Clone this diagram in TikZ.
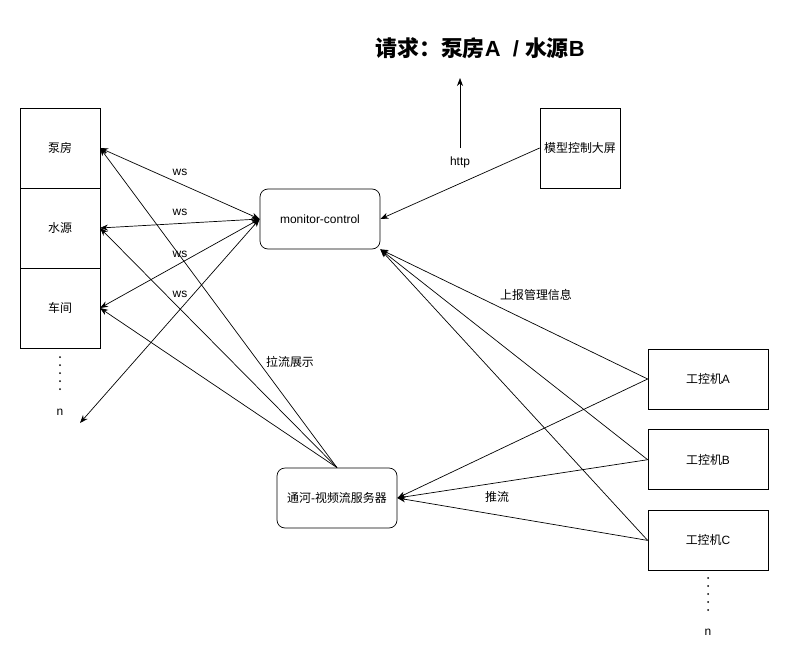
\documentclass[tikz,border=0pt]{standalone}
\usepackage{fontspec}
\setmainfont{Liberation Sans}
\newfontfamily\cjk{Noto Sans CJK SC}
\usetikzlibrary{
        arrows.meta,
        positioning
    }
\tikzset{>={Stealth[length=8pt,width=6pt,inset=2.5pt]},auto}
\tikzset{site box/.style={draw,minimum width=80bp,minimum height=80bp,outer sep=0pt}}
\tikzset{service box/.style={draw,rounded corners=8bp,minimum width=120bp,minimum height=60bp}}
\tikzset{ipc box/.style={draw,minimum width=120bp,minimum height=60bp}}
\tikzset{screen box/.style={draw,minimum width=80bp,minimum height=80bp}}

\begin{document}
\begin{tikzpicture}[x=1bp,y=-1bp,line width=0.7pt,font=\fontsize{12}{14}\selectfont]
            \useasboundingbox (0,0) rectangle (788,668);
            \node[font=\bfseries\fontsize{22}{26}\selectfont] (req) at (480,48) {{\cjk 请求：泵房}A\ \ /\ {\cjk 水源}B};
            % sites on the left
            \node[site box] (pf) at (60,148) {\cjk 泵房};
            \node[site box] (sy) [below=0pt of pf] {\cjk 水源};
            \node[site box] (cj) [below=0pt of sy] {\cjk 车间};
            \foreach \i in {0,...,4}
                \fill (60,357+8*\i) circle (1);
            \node (sn) at (60,412) {n};
            \coordinate (send) at (80,423);
            % services
            \node[service box] (mc) at (320,219) {monitor-control};
            \node[service box] (vs) at (337,498) {{\cjk 通河}-{\cjk 视频流服务器}};
            \node[screen box] (scr) at (580,148) {\cjk 模型控制大屏};
            \coordinate (hbot) at (460,148);
            \coordinate (htop) at (460,78);
            \node (http) at (460,162) {http};
            % industrial PCs
            \node[ipc box] (ia) at (708,379) {{\cjk 工控机}A};
            \node[ipc box] (ib) [below=20bp of ia] {{\cjk 工控机}B};
            \node[ipc box] (ic) [below=20bp of ib] {{\cjk 工控机}C};
            \foreach \i in {0,...,4}
                \fill (708,578+8*\i) circle (1);
            \node (in) at (708,632) {n};
            % labels
            \node (ws1) at (180,172) {ws};
            \node (ws2) at (180,212) {ws};
            \node (ws3) at (180,254) {ws};
            \node (ws4) at (180,294) {ws};
            \node (pull) at (290,362) {\cjk 拉流展示};
            \node (rep) at (536,295) {\cjk 上报管理信息};
            \node (push) at (497,497) {\cjk 推流};
            \path[<->]
                (mc.west) edge (pf.east)
                (mc.west) edge (sy.east)
                (mc.west) edge (cj.east)
                (mc.west) edge (send)
            ;
            \path[->]
                (hbot) edge (htop)
                (scr.west) edge (mc.east)
                (vs.north) edge (pf.east)
                (vs.north) edge (sy.east)
                (vs.north) edge (cj.east)
                (ia.west) edge (mc.south east)
                (ib.west) edge (mc.south east)
                (ic.west) edge (mc.south east)
                (ia.west) edge (vs.east)
                (ib.west) edge (vs.east)
                (ic.west) edge (vs.east)
            ;
        \end{tikzpicture}
\end{document}
